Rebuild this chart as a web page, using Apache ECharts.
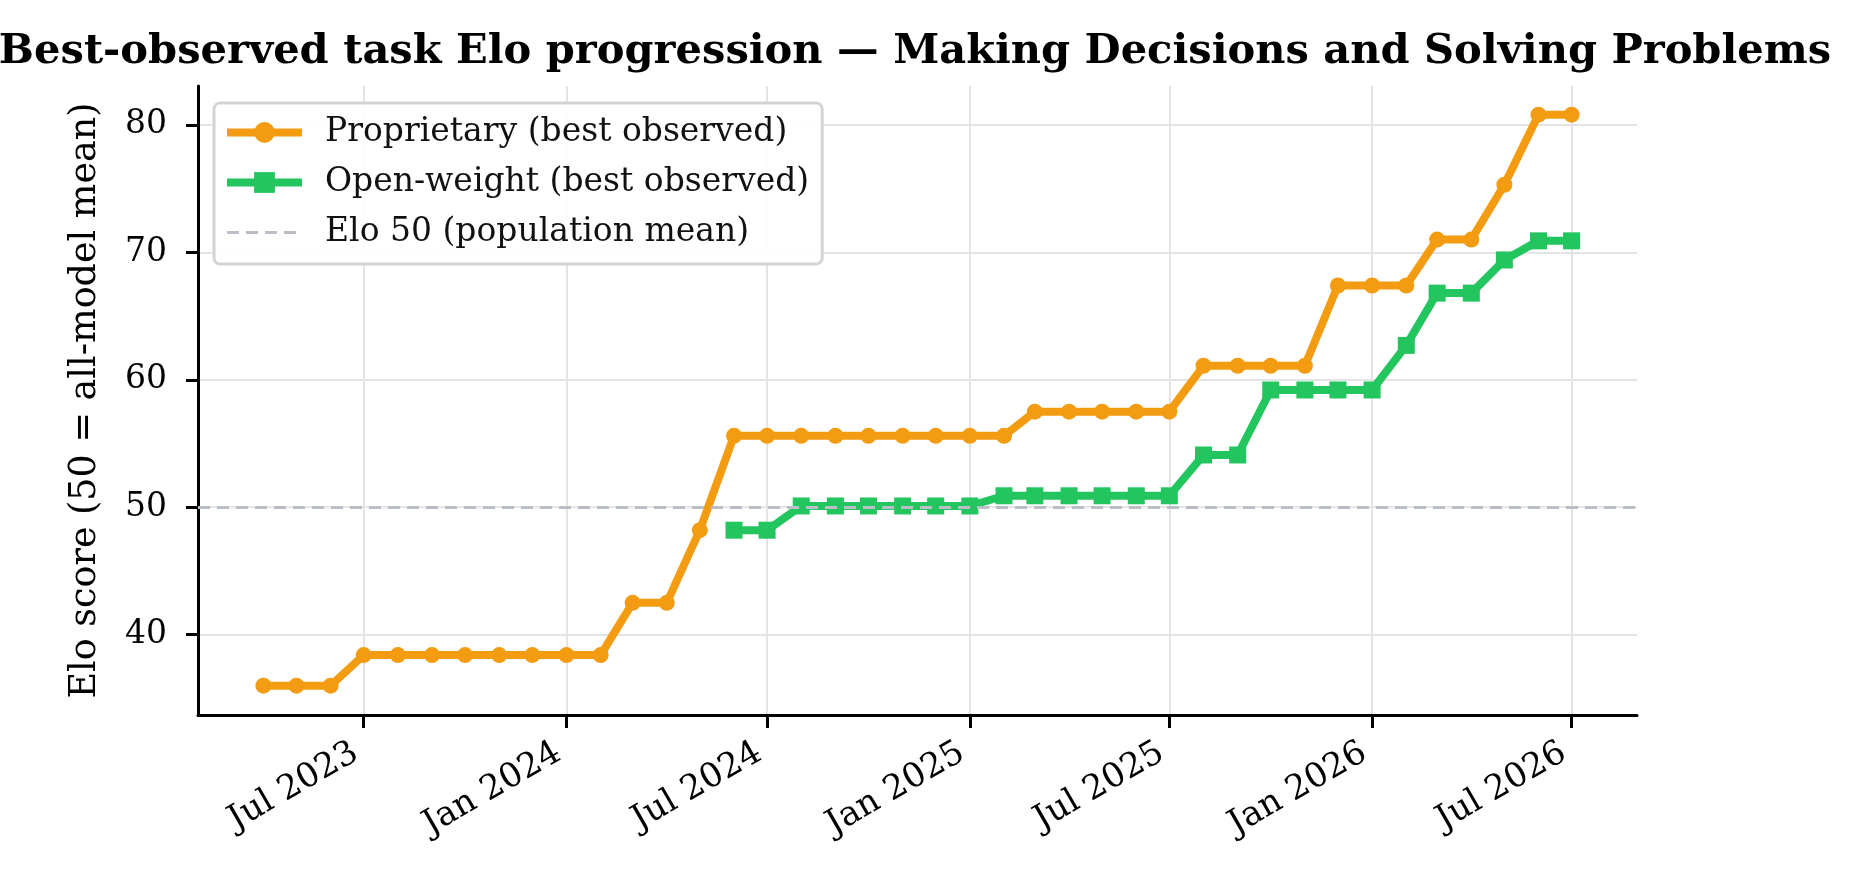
<!DOCTYPE html>
<html>
<head>
<meta charset="utf-8">
<script src="https://cdn.jsdelivr.net/npm/echarts@6/dist/echarts.min.js"></script>
<style>
    html, body { margin: 0; padding: 0; background: #fff; }
    #chart { width: 1864px; height: 878px; }
</style>
</head>
<body>
<div id="chart"></div>
<script>
// monthly observations, Apr 2023 .. Jul 2026
let months = [
    "2023-04", "2023-05", "2023-06", "2023-07", "2023-08", "2023-09", "2023-10", "2023-11", "2023-12",
    "2024-01", "2024-02", "2024-03", "2024-04", "2024-05", "2024-06", "2024-07", "2024-08", "2024-09",
    "2024-10", "2024-11", "2024-12", "2025-01", "2025-02", "2025-03", "2025-04", "2025-05", "2025-06",
    "2025-07", "2025-08", "2025-09", "2025-10", "2025-11", "2025-12", "2026-01", "2026-02", "2026-03",
    "2026-04", "2026-05", "2026-06", "2026-07"
];
let proprietary = [
    36.0, 36.0, 36.0, 38.4, 38.4, 38.4, 38.4, 38.4, 38.4,
    38.4, 38.4, 42.5, 42.5, 48.2, 55.6, 55.6, 55.6, 55.6,
    55.6, 55.6, 55.6, 55.6, 55.6, 57.5, 57.5, 57.5, 57.5,
    57.5, 61.1, 61.1, 61.1, 61.1, 67.4, 67.4, 67.4, 71.0,
    71.0, 75.3, 80.8, 80.8
];
let openWeight = [
    null, null, null, null, null, null, null, null, null,
    null, null, null, null, null, 48.2, 48.2, 50.1, 50.1,
    50.1, 50.1, 50.1, 50.1, 50.9, 50.9, 50.9, 50.9, 50.9,
    50.9, 54.1, 54.1, 59.2, 59.2, 59.2, 59.2, 62.7, 66.8,
    66.8, 69.4, 70.9, 70.9
];
let tickMonths = ["2023-07", "2024-01", "2024-07", "2025-01", "2025-07", "2026-01", "2026-07"];
let tickLabels = ["Jul 2023", "Jan 2024", "Jul 2024", "Jan 2025", "Jul 2025", "Jan 2026", "Jul 2026"];
let yTicks = [40, 50, 60, 70, 80];
let baseline = 50;

function monthToTime(m) {
    let parts = m.split("-");
    return Date.UTC(+parts[0], +parts[1] - 1, 1);
}

let serif = "DejaVu Serif";
let orange = "#f39c12";
let green = "#22c55e";
let refGray = "#b9bec7";
let times = months.map(monthToTime);
let tickTimes = tickMonths.map(monthToTime);
let span = times[times.length - 1] - times[0];

let chart = echarts.init(document.getElementById("chart"));
let option = {
    animation: false,
    backgroundColor: "#fff",
    textStyle: { fontFamily: serif },
    title: {
        text: "Best-observed task Elo progression \u2014 Making Decisions and Solving Problems",
        left: 910,
        textAlign: "center",
        top: 26,
        textStyle: { fontFamily: serif, fontWeight: "bold", fontSize: 41.6, color: "#000" }
    },
    grid: { left: 198, right: 227, top: 86, bottom: 163, containLabel: false },
    legend: {
        orient: "vertical",
        left: 214,
        top: 103,
        padding: [13, 13, 15, 9],
        itemGap: 17,
        itemWidth: 75,
        itemHeight: 26,
        backgroundColor: "rgba(255,255,255,0.9)",
        borderColor: "#d4d4d4",
        borderWidth: 3,
        borderRadius: 6,
        lineStyle: { width: 8 },
        textStyle: { fontFamily: serif, fontSize: 33, color: "#111", padding: [0, 0, 0, 18] },
        data: [
            "Proprietary (best observed)",
            "Open-weight (best observed)",
            {
                name: "Elo 50 (population mean)",
                itemStyle: { opacity: 0 },
                lineStyle: { width: 3, type: [12, 7], color: refGray }
            }
        ]
    },
    xAxis: {
        type: "value",
        min: times[0] - span * 0.05,
        max: times[times.length - 1] + span * 0.05,
        axisLine: { show: true, lineStyle: { color: "#000", width: 3 } },
        axisTick: { show: true, length: 13, lineStyle: { color: "#000", width: 3 }, customValues: tickTimes },
        axisLabel: {
            customValues: tickTimes,
            rotate: 30,
            margin: 31,
            padding: [0, 9, 0, 0],
            fontFamily: serif,
            fontSize: 34,
            color: "#000",
            formatter: function (value) {
                let i = tickTimes.indexOf(value);
                return i < 0 ? "" : tickLabels[i];
            }
        },
        splitLine: { show: true, lineStyle: { color: "#e4e4e4", width: 2 } }
    },
    yAxis: {
        type: "value",
        min: 33.7,
        max: 83.05,
        name: "Elo score (50 = all-model mean)",
        nameLocation: "middle",
        nameGap: 94,
        nameTextStyle: { fontFamily: serif, fontSize: 36.5, color: "#000" },
        axisLine: { show: true, lineStyle: { color: "#000", width: 3 } },
        axisTick: { show: true, length: 12, lineStyle: { color: "#000", width: 3 }, customValues: yTicks },
        axisLabel: {
            customValues: yTicks,
            margin: 31,
            fontFamily: serif,
            fontSize: 33,
            color: "#000"
        },
        splitLine: { show: true, lineStyle: { color: "#e4e4e4", width: 2 } }
    },
    series: [
        {
            name: "Proprietary (best observed)",
            type: "line",
            data: times.map((t, i) => [t, proprietary[i]]),
            symbol: "circle",
            symbolSize: 16,
            z: 3,
            lineStyle: { color: orange, width: 8 },
            itemStyle: { color: orange }
        },
        {
            name: "Open-weight (best observed)",
            type: "line",
            data: times.map((t, i) => [t, openWeight[i]]),
            symbol: "rect",
            symbolSize: 17,
            z: 4,
            lineStyle: { color: green, width: 8 },
            itemStyle: { color: green }
        },
        {
            name: "Elo 50 (population mean)",
            type: "line",
            data: [],
            symbol: "none",
            z: 2,
            lineStyle: { color: refGray, width: 3, type: [12, 7] },
            itemStyle: { color: refGray },
            markLine: {
                silent: true,
                symbol: "none",
                label: { show: false },
                lineStyle: { color: refGray, width: 3, type: [12, 7] },
                data: [{ yAxis: baseline }]
            }
        }
    ]
};
chart.setOption(option);
</script>
</body>
</html>
